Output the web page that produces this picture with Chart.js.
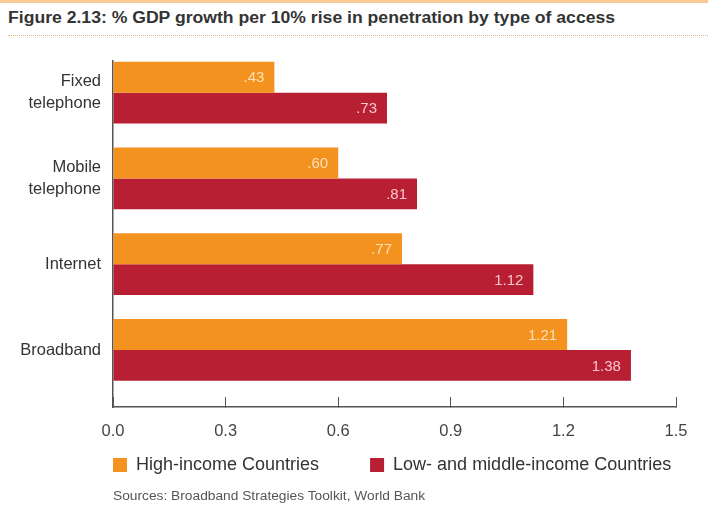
<!DOCTYPE html>
<html lang="en">
<head>
  <meta charset="UTF-8">
  <title>% GDP growth per 10% rise in penetration</title>
  <script src="https://cdn.jsdelivr.net/npm/chart.js"></script>
  <style>
    body {
      margin: 0;
      background: #fff;
      font-family: "Liberation Sans", Arial, sans-serif;
    }
    .page {
      position: relative;
      width: 708px;
      height: 509px;
      overflow: hidden;
    }
    .topline {
      position: absolute;
      left: 0; top: 0;
      width: 708px; height: 3px;
      background: #f7c995;
    }
    .title {
      position: absolute;
      left: 8px; top: 9px;
      font-weight: bold;
      font-size: 16px;
      color: #333;
      white-space: nowrap;
      transform: scaleX(1.1);
      transform-origin: left top;
    }
    .dots {
      position: absolute;
      left: 8px; top: 35px;
      width: 700px;
      border-top: 1px dotted #e2b27a;
    }
    .chart-box {
      position: absolute;
      left: 0; top: 0;
      width: 708px; height: 526px;
    }
    .source {
      position: absolute;
      left: 113px; top: 489px;
      font-size: 12.5px;
      color: #555;
      white-space: nowrap;
      transform: scaleX(1.1);
      transform-origin: left top;
    }
  </style>
</head>
<body>
  <div class="page">
    <div class="topline"></div>
    <div class="title">Figure 2.13: % GDP growth per 10% rise in penetration by type of access</div>
    <div class="dots"></div>
    <div class="chart-box">
      <canvas id="barChart"></canvas>
    </div>
    <div class="source">Sources: Broadband Strategies Toolkit, World Bank</div>
  </div>

  <script>
    const categories = [['Fixed', 'telephone'], ['Mobile', 'telephone'], 'Internet', 'Broadband'];
    const seriesNames = ['High-income Countries', 'Low- and middle-income Countries'];
    const highIncome = [0.43, 0.60, 0.77, 1.21];
    const lowMiddleIncome = [0.73, 0.81, 1.12, 1.38];
    const xTicks = [0, 0.3, 0.6, 0.9, 1.2, 1.5];

    const orange = '#f4921f';
    const red = '#b91f33';
    const font = '"Liberation Sans", Arial, sans-serif';
    const legendFont = 18;
    const legendPad = 51;
    const legendCenterY = 465;

    function fmt(v) {
      return v < 1 ? v.toFixed(2).replace(/^0/, '') : v.toFixed(2);
    }

    // value labels inside the end of each bar
    const barLabels = {
      id: 'barLabels',
      afterDatasetsDraw(chart) {
        const ctx = chart.ctx;
        ctx.save();
        ctx.font = '15px ' + font;
        ctx.textAlign = 'right';
        ctx.textBaseline = 'middle';
        chart.data.datasets.forEach((ds, i) => {
          chart.getDatasetMeta(i).data.forEach((bar, j) => {
            ctx.fillStyle = i === 0 ? 'rgba(255,228,190,0.95)' : 'rgba(255,205,212,0.95)';
            ctx.fillText(fmt(ds.data[j].x), bar.x - 10, bar.y + 1);
          });
        });
        ctx.restore();
      }
    };

    // put the legend under the plot, starting at the plot's left edge
    const legendPlace = {
      id: 'legendPlace',
      afterLayout(chart) {
        const lg = chart.legend;
        lg.left = chart.chartArea.left - legendPad;
        lg.right = chart.width + 200;
        lg.top = legendCenterY - legendPad - legendFont / 2;
        lg.bottom = lg.top + lg.height;
      }
    };

    new Chart(document.getElementById('barChart'), {
      type: 'bar',
      data: {
        datasets: [{
          label: seriesNames[0],
          data: highIncome.map((v, i) => ({ x: v, y: i })),
          backgroundColor: orange
        }, {
          label: seriesNames[1],
          data: lowMiddleIncome.map((v, i) => ({ x: v, y: i })),
          backgroundColor: red
        }]
      },
      options: {
        indexAxis: 'y',
        responsive: true,
        maintainAspectRatio: false,
        animation: false,
        categoryPercentage: 0.72,
        barPercentage: 1.0,
        layout: {
          padding: { top: 61, right: 32, left: 0, bottom: 0 }
        },
        scales: {
          x: {
            min: 0,
            max: 1.5,
            afterBuildTicks(scale) {
              scale.ticks = xTicks.map(v => ({ value: v }));
            },
            afterFit(scale) {
              scale.height = 40;
            },
            grid: {
              drawOnChartArea: false,
              tickLength: -10,
              color: '#555'
            },
            border: { color: '#555', width: 1.5 },
            ticks: {
              padding: 20,
              color: '#444',
              font: { size: 16.5, family: font, lineHeight: 1.8 },
              callback: v => v.toFixed(1)
            }
          },
          y: {
            type: 'linear',
            reverse: true,
            offset: false,
            min: -0.37,
            max: 3.665,
            afterBuildTicks(scale) {
              scale.ticks = categories.map((c, i) => ({ value: i }));
            },
            afterFit(scale) {
              scale.width = 113;
            },
            grid: { display: false, drawTicks: false, offset: false },
            border: { color: '#555', width: 1.5 },
            ticks: {
              padding: 12,
              color: '#333',
              font: { size: 16.5, family: font, lineHeight: 1.35 },
              callback: v => categories[v]
            }
          }
        },
        plugins: {
          legend: {
            position: 'bottom',
            align: 'start',
            labels: {
              boxWidth: 14,
              boxHeight: 14,
              padding: legendPad,
              color: '#333',
              font: { size: legendFont, family: font }
            }
          },
          tooltip: { enabled: false }
        }
      },
      plugins: [barLabels, legendPlace]
    });
  </script>
</body>
</html>
